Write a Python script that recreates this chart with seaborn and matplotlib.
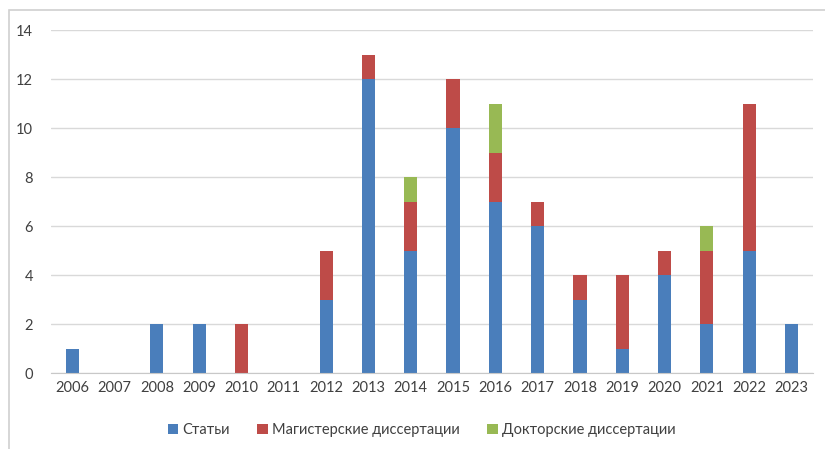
import numpy as np
import matplotlib
matplotlib.use('Agg')
import matplotlib.pyplot as plt
import seaborn as sns
from matplotlib.patches import Rectangle

years = ['2006', '2007', '2008', '2009', '2010', '2011', '2012', '2013', '2014',
         '2015', '2016', '2017', '2018', '2019', '2020', '2021', '2022', '2023']
articles = [1, 0, 2, 2, 0, 0, 3, 12, 5, 10, 7, 6, 3, 1, 4, 2, 5, 2]
masters = [0, 0, 0, 0, 2, 0, 2, 1, 2, 2, 2, 1, 1, 3, 1, 3, 6, 0]
doctors = [0, 0, 0, 0, 0, 0, 0, 0, 1, 0, 2, 0, 0, 0, 0, 1, 0, 0]
labels = ['Статьи', 'Магистерские диссертации', 'Докторские диссертации']
colors = ['#4A7EBB', '#BE4B48', '#98B954']

sns.set_style('white')
plt.rcParams['font.family'] = ['Lato', 'DejaVu Sans']

fig = plt.figure(figsize=(8.25, 4.49), dpi=100)
ax = fig.add_axes([0.062, 0.169, 0.923, 0.764])

a = np.array(articles)
m = np.array(masters)
d = np.array(doctors)
kw = dict(width=0.31, ax=ax, saturation=1, linewidth=0)
sns.barplot(x=years, y=a, color=colors[0], label=labels[0], **kw)
sns.barplot(x=years, y=m, bottom=a, color=colors[1], label=labels[1], **kw)
sns.barplot(x=years, y=d, bottom=a + m, color=colors[2], label=labels[2], **kw)

handles, lbls = ax.get_legend_handles_labels()
if ax.get_legend() is not None:
    ax.get_legend().remove()

ax.set_ylim(0, 14)
ax.set_xlim(-0.5, len(years) - 0.5)
ax.set_yticks(range(0, 15, 2))
ax.yaxis.grid(True, color='#d9d9d9', linewidth=1)
ax.set_axisbelow(True)
for s in ['top', 'right', 'left']:
    ax.spines[s].set_visible(False)
ax.spines['bottom'].set_color('#c8c8c8')
ax.tick_params(axis='both', length=0, labelsize=10.5, colors='#404040')
ax.tick_params(axis='y', pad=13)
ax.tick_params(axis='x', pad=6)

fig.legend(handles, lbls, loc='center', bbox_to_anchor=(0.511, 0.042), ncol=3, frameon=False,
           fontsize=10.5, handlelength=0.7, handleheight=0.7, handletextpad=0.3,
           columnspacing=1.9, labelcolor='#404040')

# outer chart frame, only left and top edges fall inside the image
fig.patches.append(Rectangle((0.011, -0.2), 1.2, 1.178, transform=fig.transFigure,
                             fill=False, edgecolor='#d0d0d0', linewidth=1.2))

fig.savefig('out.png', dpi=100)
